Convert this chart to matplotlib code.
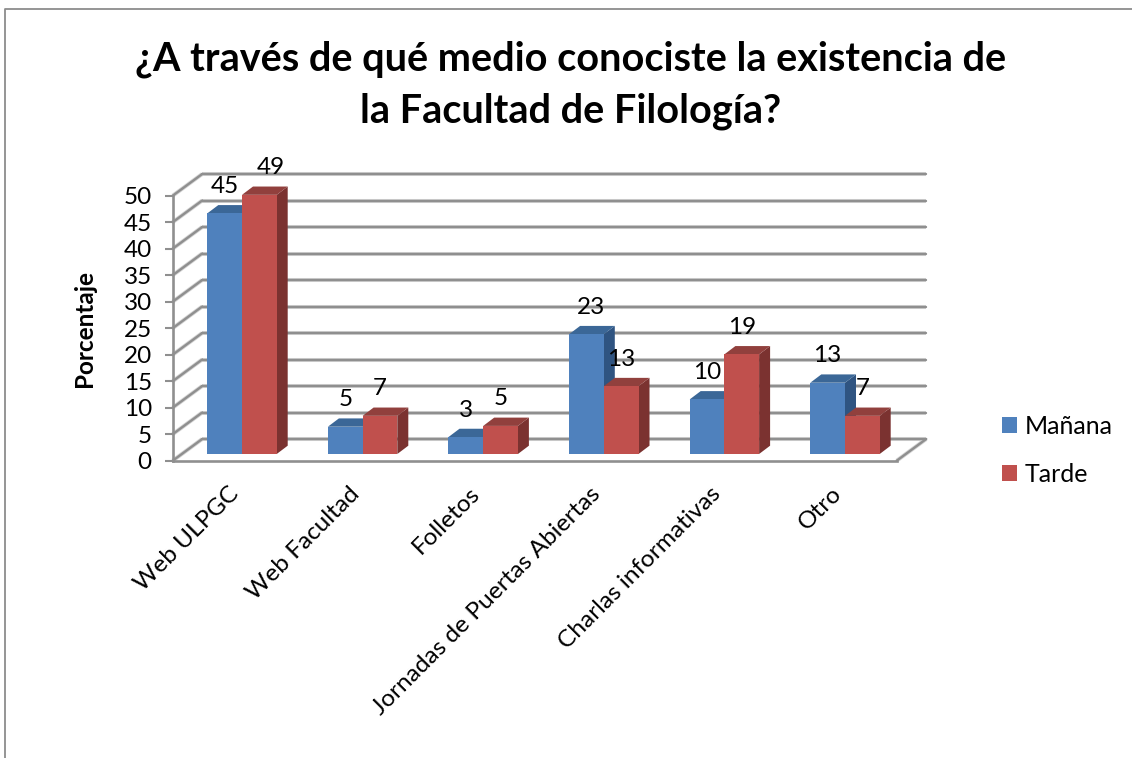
import matplotlib
matplotlib.use("Agg")
import matplotlib.pyplot as plt
from matplotlib.patches import Polygon, Patch
from matplotlib.lines import Line2D
from matplotlib.transforms import ScaledTranslation

plt.rcParams['font.family'] = ['Lato', 'DejaVu Sans']

categories = ["Web ULPGC", "Web Facultad", "Folletos", "Jornadas de Puertas Abiertas",
              "Charlas informativas", "Otro"]
manana = [45.4, 5.15, 3.2, 22.6, 10.3, 13.45]
tarde = [48.9, 7.2, 5.3, 12.8, 18.8, 7.2]
manana_labels = ["45", "5", "3", "23", "10", "13"]
tarde_labels = ["49", "7", "5", "13", "19", "7"]
yticks = [0, 5, 10, 15, 20, 25, 30, 35, 40, 45, 50]
title = "¿A través de qué medio conociste la existencia de\nla Facultad de Filología?"

W, H = 1132, 758
fig = plt.figure(figsize=(W / 100, H / 100), dpi=100)
L, R, B, T = 172.7, 896.7, 460.7, 195.7
ax = fig.add_axes([L / W, 1 - B / H, (R - L) / W, (B - T) / H])
PXX, PXY = 120.6, 5.3
ax.set_xlim((L - 242) / PXX, (R - 242) / PXX)
ax.set_ylim(0, 50)
ax.patch.set_visible(False)

GRID = '#8f8f8f'
SHADE = '#d4d4d4'
wall_dx, wall_dy = 29.5 / PXX, 21.7 / PXY
x0, x1 = ax.get_xlim()

def gline(xs, ys, z=1):
    ax.plot(xs, ys, color=SHADE, lw=2.9, clip_on=False, zorder=z, solid_capstyle='butt')
    ax.plot(xs, ys, color=GRID, lw=1.7, clip_on=False, zorder=z + .1, solid_capstyle='round')

for v in yticks:
    gline([x0, x0 + wall_dx], [v, v + wall_dy])
    gline([x0 + wall_dx, x1 + wall_dx], [v + wall_dy, v + wall_dy])
gline([x1, x1 + wall_dx], [0, wall_dy])

for s in ('top', 'right'):
    ax.spines[s].set_visible(False)
for s in ('left', 'bottom'):
    ax.spines[s].set_color(GRID)
    ax.spines[s].set_linewidth(1.9)
    ax.spines[s].set_zorder(5)

w = 34.7 / PXX
base = 6.7 / PXY
dx, dy = 11 / PXX, 8.3 / PXY
z = 10
styles = [('#4F81BD', '#3B6797', '#2F5481', -w / 2), ('#C0504D', '#91403D', '#7B3230', w / 2)]
label_nudge = {(0, 1): 11, (3, 0): 5}
for i in range(len(categories)):
    for k, (vals, labs) in enumerate(((manana, manana_labels), (tarde, tarde_labels))):
        front, top, side, off = styles[k]
        xc = i + off
        h = vals[i]
        xl, xr = xc - w / 2, xc + w / 2
        yb, yt = base, base + h
        ax.add_patch(Polygon([(xr, yb), (xr + dx, yb + dy), (xr + dx, yt + dy), (xr, yt)],
                             fc=side, ec='none', zorder=z, clip_on=False))
        ax.add_patch(Polygon([(xl, yt), (xl + dx, yt + dy), (xr + dx, yt + dy), (xr, yt)],
                             fc=top, ec='none', zorder=z, clip_on=False))
        ax.bar([xc], [h], bottom=base, width=w, color=front, edgecolor='none', zorder=z + .5, clip_on=False)
        z += 1
for i in range(len(categories)):
    for k, (vals, labs) in enumerate(((manana, manana_labels), (tarde, tarde_labels))):
        xc = i + styles[k][3]
        ax.annotate(labs[i], xy=(xc, base + vals[i]),
                    xytext=(label_nudge.get((i, k), 0) * .72, 27 * .72),
                    textcoords='offset points', ha='center', va='center',
                    fontsize=17.5, color='black', zorder=50, annotation_clip=False)

ax.set_yticks(yticks)
ax.set_yticklabels([str(v) for v in yticks], fontsize=17.5, color='black')
ax.tick_params(axis='y', length=6, width=1.5, color=GRID, pad=9)
ax.set_xticks(range(len(categories)))
ax.set_xticklabels(categories, rotation=45, ha='right', va='top', rotation_mode='anchor',
                   fontsize=17.6, color='black')
ax.tick_params(axis='x', length=0, pad=16)
shift = ScaledTranslation(-14 / 100, 0, fig.dpi_scale_trans)
for lab in ax.get_xticklabels():
    lab.set_transform(lab.get_transform() + shift)
ax.set_ylabel("Porcentaje", fontsize=17.5, fontweight='bold', labelpad=20)

fig.text(571 / W, 1 - 85 / H, title, ha='center', va='center', fontsize=28.5, fontweight='bold',
         color='black', linespacing=1.5)

handles = [Patch(fc='#4F81BD', ec='none', label='Mañana'), Patch(fc='#C0504D', ec='none', label='Tarde')]
fig.legend(handles=handles, loc='center left', bbox_to_anchor=(1002 / W, 1 - 450 / H), frameon=False,
           fontsize=18, handlelength=0.6, handleheight=0.6, handletextpad=0.3, labelspacing=1.0,
           borderpad=0, borderaxespad=0)

fig.add_artist(Line2D([4.5 / W, 4.5 / W, 1132 / W], [0, 1 - 8.5 / H, 1 - 8.5 / H], color='#8c8c8c', lw=1.3))

fig.savefig('out.png', dpi=100, facecolor='white')
